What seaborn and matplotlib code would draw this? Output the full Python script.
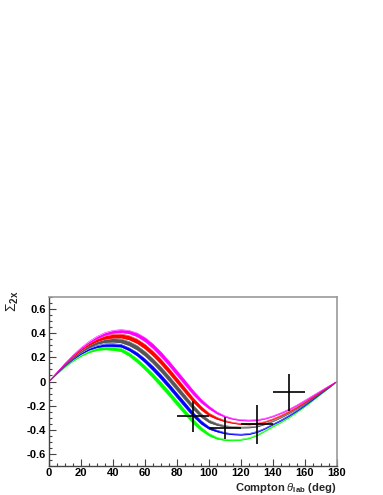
import numpy as np
import matplotlib
matplotlib.use("Agg")
import matplotlib.pyplot as plt
from matplotlib.ticker import MultipleLocator, FuncFormatter
import seaborn as sns

# ---- data ----
theta = np.arange(0, 181, 5)

magenta_c = [0, .075, .148, .215, .275, .325, .365, .395, .412, .418, .410, .387, .347, .292, .225, .150,
             .070, -.010, -.090, -.160, -.215, -.260, -.290, -.310, -.320, -.323, -.320, -.308, -.288,
             -.262, -.232, -.197, -.158, -.118, -.078, -.038, 0]
red_c = [0, .073, .144, .208, .263, .308, .343, .366, .377, .378, .363, .334, .289, .231, .163, .088,
         .008, -.072, -.152, -.220, -.273, -.305, -.328, -.343, -.352, -.355, -.350, -.335, -.312,
         -.283, -.250, -.213, -.172, -.129, -.086, -.043, 0]
gray_c = [0, .070, .137, .197, .248, .290, .320, .337, .342, .337, .315, .280, .230, .169, .100, .025,
          -.054, -.133, -.212, -.280, -.330, -.355, -.370, -.378, -.381, -.380, -.372, -.353, -.328,
          -.298, -.263, -.224, -.181, -.136, -.091, -.045, 0]
blue_c = [0, .067, .130, .185, .232, .268, .290, .302, .302, .297, .268, .227, .172, .108, .038, -.037,
          -.116, -.194, -.272, -.338, -.385, -.410, -.428, -.437, -.440, -.435, -.418, -.390, -.355,
          -.322, -.284, -.242, -.196, -.147, -.098, -.049, 0]
green_c = [0, .062, .120, .172, .215, .247, .268, .276, .272, .262, .225, .174, .114, .047, -.025, -.100,
           -.178, -.255, -.330, -.392, -.440, -.470, -.483, -.487, -.482, -.470, -.445, -.410, -.372,
           -.337, -.297, -.253, -.205, -.154, -.103, -.051, 0]

# band half widths
magenta_w = [0, .001, .002, .003, .005, .007, .009, .010, .011, .012, .013, .015, .017, .019, .020, .020,
             .020, .020, .018, .015, .011, .008, .005, .004, .004, .004, .004, .003, .003, .003, .003,
             .003, .003, .003, .002, .002, 0]
red_w = [0, .001, .002, .004, .006, .009, .011, .013, .015, .016, .017, .018, .019, .020, .021, .021,
         .021, .020, .018, .015, .011, .008, .005, .004, .004, .004, .004, .003, .003, .003, .003,
         .003, .003, .003, .002, .002, 0]
gray_w = [0, .001, .002, .004, .006, .009, .011, .013, .015, .016, .017, .018, .019, .020, .021, .021,
          .021, .020, .018, .015, .011, .008, .005, .004, .004, .004, .004, .003, .003, .003, .003,
          .003, .003, .003, .002, .002, 0]
blue_w = [0, .001, .002, .003, .005, .007, .008, .010, .011, .011, .012, .014, .016, .018, .019, .019,
          .019, .019, .017, .014, .010, .007, .005, .004, .004, .004, .004, .003, .003, .003, .003,
          .003, .003, .003, .002, .002, 0]
green_w = [0, .001, .002, .004, .006, .008, .010, .012, .013, .013, .014, .016, .017, .019, .020, .020,
           .020, .019, .017, .014, .010, .007, .005, .004, .004, .004, .004, .003, .003, .003, .003,
           .003, .003, .003, .002, .002, 0]

pts_x = [90, 110, 130, 150]
pts_y = [-0.288, -0.386, -0.356, -0.090]
pts_xerr = [10, 10, 10, 10]
pts_yerr = [0.128, 0.090, 0.164, 0.152]

bands = [
    ("#00ff00", green_c, green_w),
    ("#0000ff", blue_c, blue_w),
    ("#555555", gray_c, gray_w),
    ("#ff0000", red_c, red_w),
    ("#ff00ff", magenta_c, magenta_w),
]

sns.set_style("ticks")
plt.rcParams["font.family"] = ["Liberation Sans", "DejaVu Sans"]
plt.rcParams["axes.unicode_minus"] = False
plt.rcParams["mathtext.fontset"] = "custom"
plt.rcParams["mathtext.rm"] = "Liberation Sans"
plt.rcParams["mathtext.it"] = "Liberation Sans:italic"
plt.rcParams["mathtext.bf"] = "Liberation Sans:bold"

fig = plt.figure(figsize=(3.83, 4.95), dpi=100)
fig.patch.set_facecolor("white")
ax = fig.add_axes([49 / 383, 29 / 495, 288 / 383, 169 / 495])

for color, c, w in bands:
    c = np.array(c); w = np.array(w)
    ax.fill_between(theta, c - w, c + w, color=color, lw=0, zorder=2)
    sns.lineplot(x=theta, y=c + w, color=color, lw=0.35, ax=ax, zorder=2)
    sns.lineplot(x=theta, y=c - w, color=color, lw=0.35, ax=ax, zorder=2)

ax.errorbar(pts_x, pts_y, xerr=pts_xerr, yerr=pts_yerr, fmt="none",
            ecolor="black", elinewidth=1.2, capsize=0, zorder=5)

ax.set_xlim(0, 180); ax.set_ylim(-0.7, 0.7)
ax.xaxis.set_major_locator(MultipleLocator(20)); ax.xaxis.set_minor_locator(MultipleLocator(5))
ax.yaxis.set_major_locator(MultipleLocator(0.2)); ax.yaxis.set_minor_locator(MultipleLocator(0.05))
ax.yaxis.set_major_formatter(FuncFormatter(lambda v, p: "0" if abs(v) < 1e-9 else f"{v:.1f}"))
ax.tick_params(which="both", direction="in", top=False, right=False, colors="#444444",
               labelcolor="black", labelsize=8)
ax.tick_params(which="major", length=5, width=0.8, pad=2)
ax.tick_params(axis="x", which="major", pad=1.5)
ax.tick_params(which="minor", length=2.5, width=0.8)
for lab in ax.get_xticklabels() + ax.get_yticklabels():
    lab.set_fontweight("bold")
for s in ["left", "bottom"]:
    ax.spines[s].set_color("#444444"); ax.spines[s].set_linewidth(1.0)
for s in ["top", "right"]:
    ax.spines[s].set_color("#999999"); ax.spines[s].set_linewidth(1.2)
ax.set_xlabel(""); ax.set_ylabel("")

fig.text(336 / 383, 1 - 481 / 495, r"Compton $\theta_{\mathbf{lab}}$ (deg)", ha="right", va="top",
         fontsize=8, fontweight="bold")
fig.text(13 / 383, 1 - 301 / 495, r"$\Sigma_{\mathbf{2x}}$", rotation=90, ha="center", va="center",
         fontsize=10)

fig.savefig("out.png", dpi=100)
